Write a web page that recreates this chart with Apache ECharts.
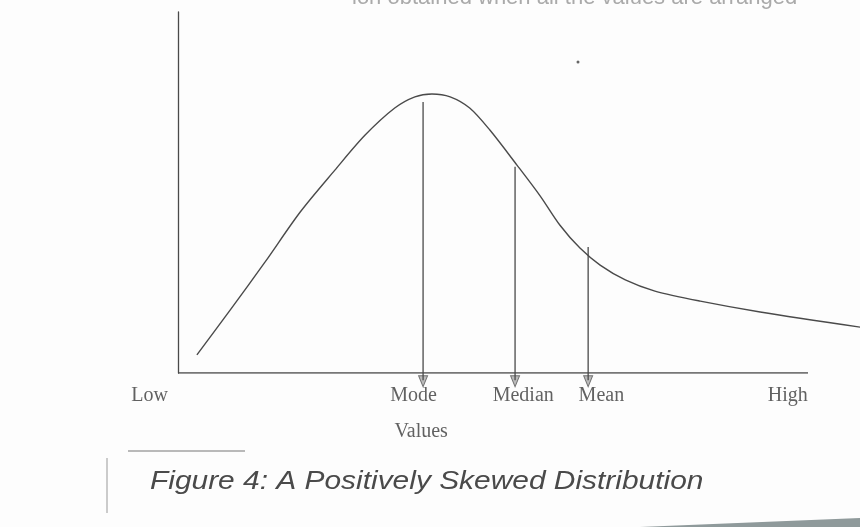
<!DOCTYPE html>
<html>
<head>
<meta charset="utf-8">
<script src="https://cdn.jsdelivr.net/npm/echarts@6/dist/echarts.min.js"></script>
<style>
  html, body { margin: 0; padding: 0; background: #fff; }
  #chart { width: 860px; height: 527px; }
</style>
</head>
<body>
<div id="chart"></div>
<script>
// curve (x: 0 = low end of axis, 100 = high end; y: 0..100 of axis height)
var curveX = [3.0, 8.3, 13.8, 19.4, 24.9, 29.7, 34.4, 37.6, 40.3, 43.2, 46.3, 49.5, 53.8, 57.5, 60.6, 63.8, 67.0, 71.0, 75.7, 82.9, 92.4, 108.3]
var curveY = [5.0, 17.5, 30.7, 44.6, 56.2, 65.9, 73.4, 76.5, 77.3, 76.5, 73.4, 67.3, 57.6, 49.0, 41.0, 34.6, 29.9, 25.8, 22.7, 19.9, 16.9, 12.7]

// mode / median / mean drop lines
var markerNames = ['Mode', 'Median', 'Mean']
var markerX = [38.9, 53.5, 65.1]
var markerTop = [75.1, 57.1, 34.9]

// words under the axis
var axisWords = ['Low', 'Mode', 'Median', 'Mean', 'High']
var axisWordX = [-4.5, 37.4, 54.8, 67.2, 96.8]
var axisTitle = 'Values'
var caption = 'Figure 4: A Positively Skewed Distribution'

var lineColor = '#4a4a4a'

var curveData = []
for (var i = 0; i < curveX.length; i++) {
  curveData.push([curveX[i], curveY[i]])
}

var series = [
  {
    // base line of the axis
    type: 'line',
    data: [[0, 0], [100, 0]],
    showSymbol: false,
    silent: true,
    lineStyle: { color: lineColor, width: 1.6 }
  },
  {
    type: 'line',
    data: curveData,
    smooth: 0.3,
    showSymbol: false,
    clip: false,
    lineStyle: { color: lineColor, width: 1.4 }
  }
]

var arrowData = []
for (var i = 0; i < markerX.length; i++) {
  series.push({
    name: markerNames[i],
    type: 'line',
    data: [[markerX[i], markerTop[i]], [markerX[i], -2]],
    showSymbol: false,
    clip: false,
    lineStyle: { color: lineColor, width: 1.3 }
  })
  arrowData.push([markerX[i], -2.3])
}

series.push({
  type: 'scatter',
  data: arrowData,
  symbol: 'triangle',
  symbolRotate: 180,
  symbolSize: [9, 11],
  clip: false,
  itemStyle: { color: '#aaa', borderColor: '#555', borderWidth: 1 }
})

var wordData = []
for (var i = 0; i < axisWords.length; i++) {
  wordData.push({ name: axisWords[i], value: [axisWordX[i], -6.2] })
}
wordData.push({ name: axisTitle, value: [38.6, -16.3] })

series.push({
  type: 'scatter',
  data: wordData,
  symbolSize: 1,
  clip: false,
  itemStyle: { color: 'rgba(0,0,0,0)' },
  label: {
    show: true,
    position: 'inside',
    formatter: function (p) { return p.name },
    fontFamily: 'Liberation Serif',
    fontSize: 20,
    color: '#3a3a3a'
  }
})

var myChart = echarts.init(document.getElementById('chart'))
var option = {
  backgroundColor: '#fdfdfd',
  animation: false,
  grid: { left: 178, right: 0, top: 12, bottom: 154 },
  xAxis: {
    type: 'value',
    min: 0,
    max: 108.25,
    axisLine: { show: false },
    axisTick: { show: false },
    axisLabel: { show: false },
    splitLine: { show: false }
  },
  yAxis: {
    type: 'value',
    min: 0,
    max: 100,
    axisLine: { show: true, lineStyle: { color: lineColor, width: 1.3 } },
    axisTick: { show: false },
    axisLabel: { show: false },
    splitLine: { show: false }
  },
  series: series,
  graphic: [
    {
      type: 'text',
      x: 150,
      y: 482,
      scaleX: 1.15,
      style: {
        text: caption,
        fontFamily: 'Liberation Sans',
        fontStyle: 'italic',
        fontSize: 26,
        fill: '#4a4a4a',
        verticalAlign: 'middle'
      }
    },
    {
      type: 'text',
      left: 352,
      top: -13,
      style: { text: 'ion obtained when all the values are arranged', fontFamily: 'Liberation Sans', fontSize: 22, fill: '#aaa' }
    },
    { type: 'circle', shape: { cx: 578, cy: 62, r: 1.5 }, style: { fill: '#666' } },
    { type: 'line', shape: { x1: 128, y1: 451, x2: 245, y2: 451 }, style: { stroke: '#777', lineWidth: 1.2 } },
    { type: 'line', shape: { x1: 107, y1: 458, x2: 107, y2: 513 }, style: { stroke: '#999', lineWidth: 1 } },
    {
      type: 'polygon',
      shape: { points: [[640, 527], [860, 518], [860, 527]] },
      style: { fill: '#5f6f70', opacity: 0.7 }
    }
  ]
}
myChart.setOption(option)
</script>
</body>
</html>
